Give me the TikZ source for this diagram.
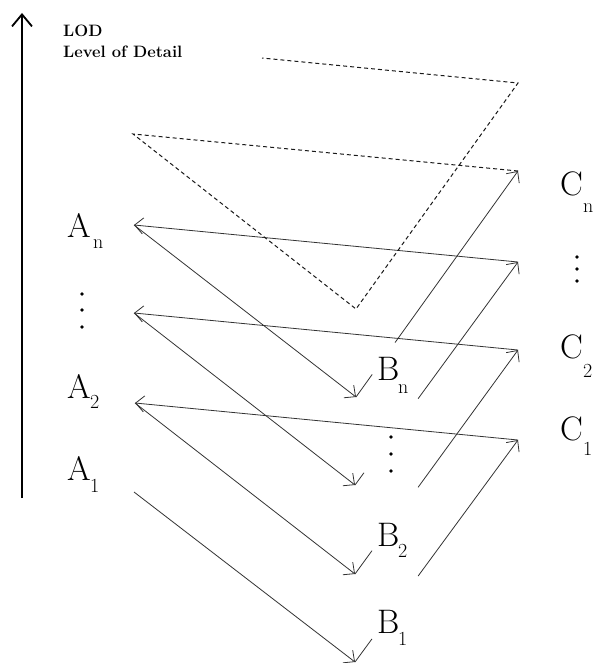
\documentclass[tikz,border=0pt]{standalone}
\usetikzlibrary{arrows.meta,calc}
\tikzset{
  link/.style={draw=black!80, line width=0.8pt},
  head/.style={-{Straight Barb[length=8.5pt,width=16pt]}},
  dline/.style={draw=black!90, line width=1pt, dash pattern=on 4pt off 3pt},
  big/.style={anchor=base west, inner sep=0pt, font=\fontsize{34}{34}\selectfont},
  sub/.style={anchor=base west, inner sep=0pt, font=\fontsize{20}{20}\selectfont},
  dotn/.style={circle, fill=black, inner sep=0pt, minimum size=3.8pt},
  ttl/.style={anchor=base west, inner sep=0pt, font=\fontsize{16.5}{16.5}\selectfont\bfseries},
}
\begin{document}
\begin{tikzpicture}[x=1pt,y=-1pt]
\useasboundingbox (0,0) rectangle (595,663);
% points
\coordinate (Ap) at (133,134);
\coordinate (An) at (134,225);
\coordinate (Ad) at (134,313);
\coordinate (A2) at (135,403);
\coordinate (A1) at (134,492);
\coordinate (Bp) at (356,309);
\coordinate (Bn) at (356,397);
\coordinate (Bd) at (355,485);
\coordinate (B2) at (355,574);
\coordinate (B1) at (355,662);
\coordinate (Cp) at (518,83);
\coordinate (Cn) at (518,171);
\coordinate (Cd) at (518,262);
\coordinate (C2) at (518,350);
\coordinate (C1) at (518,440);
\coordinate (Dend) at (262,58);
% LOD axis
\coordinate (axb) at (22,498);
\coordinate (axt) at (22,13);
\draw[line width=1.8pt, -{Straight Barb[length=12pt,width=20pt]}] (axb) -- (axt);
\node[ttl] (lod) at (63,37) {LOD};
\node[ttl] (lodtxt) at (63,58) {Level of Detail};
% A -> B
\draw[link,head] (A1) -- (B1);
\draw[link,head] (A2) -- (B2);
\draw[link,head] (Ad) -- (Bd);
\draw[link,head] (An) -- (Bn);
% B -> C (interrupted near the B labels)
\draw[link] (B1) -- ($(B1)!0.104!(C1)$);
\draw[link,head] ($(B1)!0.387!(C1)$) -- (C1);
\draw[link] (B2) -- ($(B2)!0.104!(C2)$);
\draw[link,head] ($(B2)!0.387!(C2)$) -- (C2);
\draw[link] (Bd) -- ($(Bd)!0.055!(Cd)$);
\draw[link,head] ($(Bd)!0.387!(Cd)$) -- (Cd);
\draw[link] (Bn) -- ($(Bn)!0.1!(Cn)$);
\draw[link,head] ($(Bn)!0.241!(Cn)$) -- (Cn);
% C -> A
\draw[link,head] (C1) -- (A2);
\draw[link,head] (C2) -- (Ad);
\draw[link,head] (Cd) -- (An);
% dashed continuation
\draw[dline] (Cn) -- (Ap) -- (Bp) -- (Cp) -- (Dend);
% labels A
\node[big] (lAn) at (67,237) {A};
\node[sub] (sAn) at (93,248) {n};
\node[dotn] (dA1) at (82,294) {};
\node[dotn] (dA2) at (82,310) {};
\node[dotn] (dA3) at (82,327) {};
\node[big] (lA2) at (67,398) {A};
\node[sub] (sA2) at (90,408) {2};
\node[big] (lA1) at (67,480) {A};
\node[sub] (sA1) at (90,492) {1};
% labels B
\node[big] (lBn) at (377,380) {B};
\node[sub] (sBn) at (398,393) {n};
\node[dotn] (dB1) at (391,437) {};
\node[dotn] (dB2) at (391,454) {};
\node[dotn] (dB3) at (391,471) {};
\node[big] (lB2) at (377,546) {B};
\node[sub] (sB2) at (398,557) {2};
\node[big] (lB1) at (377,633) {B};
\node[sub] (sB1) at (398,645) {1};
% labels C
\node[big] (lCn) at (560,195) {C};
\node[sub] (sCn) at (583,212) {n};
\node[dotn] (dC1) at (577,257) {};
\node[dotn] (dC2) at (577,269) {};
\node[dotn] (dC3) at (577,281) {};
\node[big] (lC2) at (560,358) {C};
\node[sub] (sC2) at (583,377) {2};
\node[big] (lC1) at (560,440) {C};
\node[sub] (sC1) at (583,455) {1};
\end{tikzpicture}
\end{document}
